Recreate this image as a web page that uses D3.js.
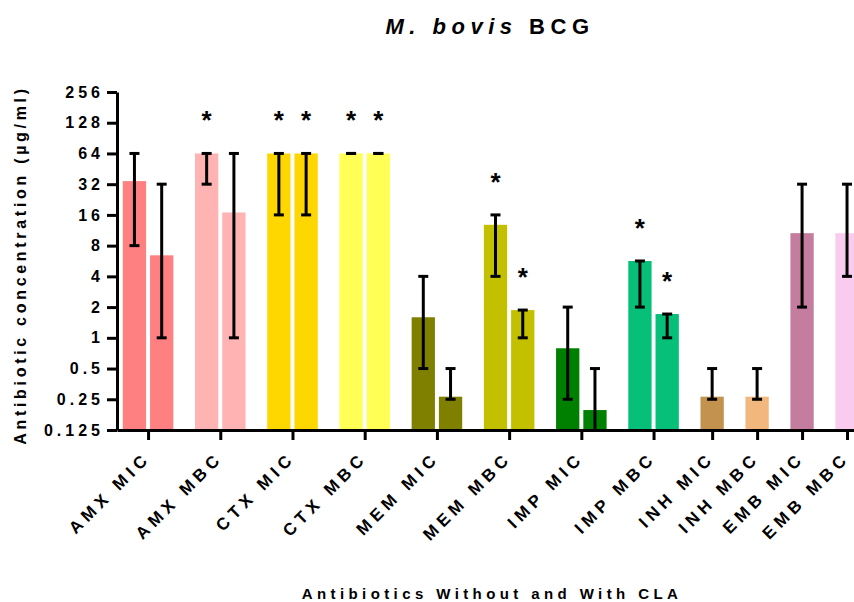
<!DOCTYPE html>
<html>
<head>
<meta charset="utf-8">
<script src="https://cdn.jsdelivr.net/npm/d3@7"></script>
<style>
  body { margin: 0; background: #fff; }
  text { font-family: "Liberation Sans", Arial, sans-serif; font-weight: bold; }
</style>
</head>
<body>
<div class="chart"></div>
<script>
// categories along the x axis
let categories = ["AMX MIC", "AMX MBC", "CTX MIC", "CTX MBC", "MEM MIC", "MEM MBC",
                  "IMP MIC", "IMP MBC", "INH MIC", "INH MBC", "EMB MIC", "EMB MBC"];
let colors = ["#ff8080", "#ffb3b3", "#ffd700", "#ffff55", "#808000", "#c3c000",
              "#008000", "#06c07a", "#c4924f", "#f2b77d", "#c47d9e", "#f9ccef"];

// without CLA (first bar of each group)
let withoutVal  = [34.3, 64, 64, 64, 1.59, 12.8, 0.79, 5.66, 0.265, 0.265, 10.6, 10.6];
let withoutLow  = [8, 32, 16, 64, 0.5, 4, 0.25, 2, 0.25, 0.25, 2, 4];
let withoutHigh = [64, 64, 64, 64, 4, 16, 2, 5.66, 0.5, 0.5, 32, 32];
let withoutStar = [false, true, true, true, false, true, false, true, false, false, false, false];

// with CLA (second bar, only the first eight groups)
let withVal  = [6.43, 16.9, 64, 64, 0.265, 1.87, 0.196, 1.71];
let withLow  = [1, 1, 16, 64, 0.25, 1, 0.125, 1];
let withHigh = [32, 64, 64, 64, 0.5, 1.87, 0.5, 1.71];
let withStar = [false, false, true, true, false, true, false, true];

let yTicks = [0.125, 0.25, 0.5, 1, 2, 4, 8, 16, 32, 64, 128, 256];
let yTickLabels = ["0.125", "0.25", "0.5", "1", "2", "4", "8", "16", "32", "64", "128", "256"];

let width = 854, height = 602;
let svg = d3.select(".chart").append("svg")
            .attr("width", width)
            .attr("height", height);

// lay the bars out in "slot" units: one slot per bar, a gap between groups
let lead = 0.14, gap = 0.65, barW = 0.855;
let bars = [];
let groupCenters = [];
let pos = lead;
categories.forEach(function(c, i) {
    let start = pos;
    bars.push({cat: i, v: withoutVal[i], lo: withoutLow[i], hi: withoutHigh[i], star: withoutStar[i], c: pos + 0.5});
    pos += 1;
    if (i < withVal.length) {
        bars.push({cat: i, v: withVal[i], lo: withLow[i], hi: withHigh[i], star: withStar[i], c: pos + 0.5});
        pos += 1;
    }
    groupCenters.push((start + pos) / 2);
    pos += gap;
});
let totalUnits = 28;

let x0 = 117, unit = 27.25;
let x = d3.scaleLinear()
          .domain([0, totalUnits])
          .range([x0, x0 + totalUnits * unit]);
let y = d3.scaleLog()
          .base(2)
          .domain([0.125, 256])
          .range([430, 92]);

// bars
svg.append("g")
   .selectAll("rect")
   .data(bars)
   .enter()
   .append("rect")
   .attr("x", d => x(d.c - barW / 2))
   .attr("width", x(barW) - x(0))
   .attr("y", d => y(d.v))
   .attr("height", d => y(0.125) - y(d.v))
   .attr("fill", d => colors[d.cat]);

// error bars
let capW = 5;
let eb = svg.append("g")
            .attr("stroke", "#000")
            .attr("stroke-width", 3);
eb.selectAll(".stem")
  .data(bars)
  .enter()
  .append("line")
  .attr("x1", d => x(d.c))
  .attr("x2", d => x(d.c))
  .attr("y1", d => y(d.lo))
  .attr("y2", d => y(d.hi));
eb.selectAll(".capTop")
  .data(bars)
  .enter()
  .append("line")
  .attr("x1", d => x(d.c) - capW)
  .attr("x2", d => x(d.c) + capW)
  .attr("y1", d => y(d.hi))
  .attr("y2", d => y(d.hi));
eb.selectAll(".capBottom")
  .data(bars.filter(d => d.lo > 0.125))
  .enter()
  .append("line")
  .attr("x1", d => x(d.c) - capW)
  .attr("x2", d => x(d.c) + capW)
  .attr("y1", d => y(d.lo))
  .attr("y2", d => y(d.lo));

// significance stars
svg.append("g")
   .selectAll("text")
   .data(bars.filter(d => d.star))
   .enter()
   .append("text")
   .attr("x", d => x(d.c))
   .attr("y", d => y(d.hi) - 24)
   .attr("text-anchor", "middle")
   .style("font-size", "26px")
   .text("*");

// y axis
let yAxis = svg.append("g")
               .attr("transform", "translate(" + x0 + ",0)")
               .call(d3.axisLeft(y)
                       .tickValues(yTicks)
                       .tickFormat((d, i) => yTickLabels[i])
                       .tickSize(10)
                       .tickSizeOuter(0));
yAxis.select(".domain").attr("stroke-width", 3);
yAxis.selectAll(".tick line").attr("stroke-width", 3);
yAxis.selectAll(".tick text")
     .style("font-size", "16px")
     .style("font-family", "'Liberation Sans', Arial, sans-serif")
     .style("font-weight", "bold")
     .style("letter-spacing", "4px")
     .attr("fill", "#000");

// x axis
let xAxis = svg.append("g")
               .attr("transform", "translate(0,430)")
               .call(d3.axisBottom(x)
                       .tickValues(groupCenters)
                       .tickFormat((d, i) => categories[i])
                       .tickSize(10)
                       .tickSizeOuter(0));
xAxis.select(".domain").attr("stroke-width", 3);
xAxis.selectAll(".tick line").attr("stroke-width", 3);
xAxis.selectAll(".tick text")
     .style("font-size", "17px")
     .style("font-family", "'Liberation Sans', Arial, sans-serif")
     .style("font-weight", "bold")
     .style("letter-spacing", "4.8px")
     .attr("fill", "#000")
     .attr("text-anchor", "end")
     .attr("dy", null)
     .attr("y", 0)
     .attr("transform", "translate(3,29) rotate(-45)");

// titles
let title = svg.append("text")
               .attr("x", 490)
               .attr("y", 34)
               .attr("text-anchor", "middle")
               .style("font-size", "22px")
               .style("letter-spacing", "5.5px");
title.append("tspan").style("font-style", "italic").text("M. bovis");
title.append("tspan").text(" BCG");

svg.append("text")
   .attr("x", 492)
   .attr("y", 599)
   .attr("text-anchor", "middle")
   .style("font-size", "15px")
   .style("letter-spacing", "4.4px")
   .text("Antibiotics Without and With CLA");

svg.append("text")
   .attr("transform", "translate(26,265) rotate(-90)")
   .attr("text-anchor", "middle")
   .style("font-size", "16px")
   .style("letter-spacing", "3.7px")
   .text("Antibiotic concentration (µg/ml)");
</script>
</body>
</html>
